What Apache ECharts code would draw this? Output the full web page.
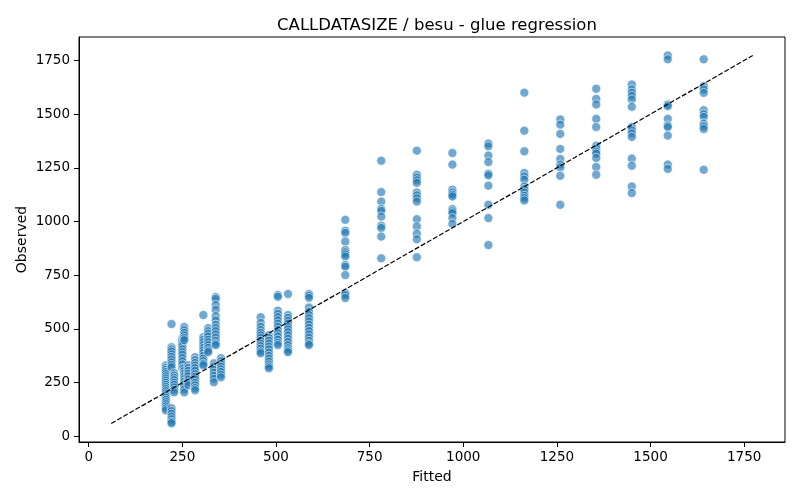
<!DOCTYPE html>
<html>
<head>
<meta charset="utf-8">
<script src="https://cdn.jsdelivr.net/npm/echarts@6/dist/echarts.min.js"></script>
<style>
  html, body { margin: 0; padding: 0; background: #fff; }
  #chart { width: 800px; height: 500px; }
</style>
</head>
<body>
<div id="chart"></div>
<script>
// fitted value of each vertical cluster, and the observed values in it
const fittedLevels = [206, 221, 228, 250, 255, 266, 284, 306, 319, 334, 339, 353,
  459, 481, 505, 532, 588, 685, 781, 876, 971, 1067, 1163, 1259, 1355, 1450, 1546, 1642];

const observed = [
  [331, 320, 310, 300, 290, 280, 270, 260, 250, 240, 230, 220, 210, 200, 190, 180, 170, 160, 150, 140, 130, 121],
  [523, 415, 405, 395, 382, 370, 358, 345, 333, 322, 131, 118, 105, 92, 80, 68, 61],
  [294, 283, 272, 262, 250, 240, 228, 216, 205],
  [457, 445, 432, 420, 405, 392, 380, 365, 350, 335, 317],
  [509, 495, 482, 470, 458, 448, 317, 305, 292, 280, 268, 255, 243, 230, 218, 205],
  [331, 318, 305, 292, 280, 265, 252, 238],
  [369, 355, 342, 330, 318, 305, 290, 278, 265, 250, 238, 225, 215],
  [565, 462, 450, 438, 425, 412, 400, 388, 375, 362, 350, 338, 331],
  [504, 490, 478, 465, 450, 438, 425, 412, 400, 392],
  [340, 325, 310, 296, 282, 268, 252],
  [649, 640, 612, 590, 560, 540, 520, 505, 490, 475, 460, 445, 432, 425],
  [364, 350, 338, 325, 312, 300, 287, 275],
  [555, 528, 510, 495, 482, 470, 458, 445, 432, 420, 408, 395, 387],
  [471, 458, 445, 432, 418, 405, 390, 375, 362, 348, 335, 325, 317],
  [658, 650, 585, 570, 555, 540, 525, 510, 495, 480, 465, 450, 435, 425],
  [663, 565, 552, 538, 525, 510, 498, 485, 470, 455, 440, 425, 410, 400, 392],
  [663, 655, 645, 600, 580, 565, 550, 535, 520, 505, 490, 475, 460, 445, 432, 425],
  [1008, 957, 947, 907, 868, 857, 847, 837, 798, 790, 751, 667, 658, 644],
  [1283, 1137, 1093, 1059, 1050, 1023, 981, 970, 930, 829],
  [1330, 1218, 1205, 1192, 1180, 1135, 1122, 1108, 1093, 1011, 977, 943, 918, 834],
  [1319, 1265, 1148, 1135, 1125, 1117, 1058, 1048, 1039, 1016, 989],
  [1363, 1350, 1307, 1277, 1223, 1215, 1167, 1078, 1016, 891],
  [1600, 1423, 1327, 1226, 1210, 1195, 1163, 1150, 1135, 1120, 1109, 1098],
  [1475, 1451, 1408, 1338, 1291, 1265, 1252, 1213, 1078],
  [1618, 1571, 1545, 1478, 1440, 1353, 1340, 1325, 1316, 1296, 1254, 1218],
  [1638, 1615, 1600, 1585, 1568, 1534, 1440, 1425, 1410, 1394, 1293, 1260, 1163, 1133],
  [1773, 1755, 1545, 1537, 1478, 1447, 1440, 1400, 1265, 1245],
  [1755, 1630, 1615, 1599, 1518, 1500, 1487, 1456, 1443, 1431, 1241]
];

// y = x reference line
const diagonal = [[60, 60], [1773, 1773]];
const tickValues = [0, 250, 500, 750, 1000, 1250, 1500, 1750];

const points = [];
fittedLevels.forEach((f, i) => {
  observed[i].forEach(v => points.push([f, v]));
});

const font = 'DejaVu Sans';
const axisCommon = {
  type: 'value',
  min: -26,
  max: 1859,
  nameLocation: 'middle',
  nameTextStyle: { fontFamily: font, fontSize: 14, color: '#000' },
  axisLine: { show: true, onZero: false, lineStyle: { color: '#000', width: 1 } },
  axisTick: { show: true, length: 5, inside: false, customValues: tickValues, lineStyle: { color: '#000' } },
  axisLabel: {
    customValues: tickValues,
    formatter: v => String(v),
    fontFamily: font, fontSize: 13.5, color: '#000'
  },
  splitLine: { show: false }
};

const chart = echarts.init(document.getElementById('chart'));
chart.setOption({
  animation: false,
  backgroundColor: '#fff',
  title: {
    text: 'CALLDATASIZE / besu - glue regression',
    left: 432,
    textAlign: 'center',
    top: 12,
    textStyle: { fontFamily: font, fontSize: 16.5, fontWeight: 'normal', color: '#000' }
  },
  grid: {
    left: 79, right: 15, top: 37, bottom: 58,
    show: true, borderColor: '#000', borderWidth: 1, backgroundColor: 'transparent'
  },
  xAxis: Object.assign({}, axisCommon, {
    name: 'Fitted',
    nameGap: 28,
    axisLabel: Object.assign({}, axisCommon.axisLabel, { margin: 8 })
  }),
  yAxis: Object.assign({}, axisCommon, {
    name: 'Observed',
    nameGap: 50,
    nameMoveOverlap: false,
    axisLabel: Object.assign({}, axisCommon.axisLabel, { margin: 9 })
  }),
  series: [
    {
      type: 'scatter',
      data: points,
      symbolSize: 9,
      itemStyle: {
        color: 'rgba(31,119,180,0.8)',
        borderColor: 'rgba(255,255,255,0.9)',
        borderWidth: 0.8
      }
    },
    {
      type: 'line',
      data: diagonal,
      symbol: 'none',
      lineStyle: { color: '#000', width: 1.2, type: [5, 2] },
      z: 3
    }
  ]
});
</script>
</body>
</html>
